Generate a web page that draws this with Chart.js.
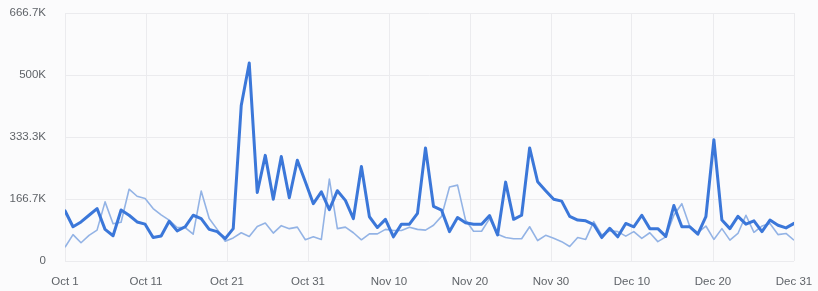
<!DOCTYPE html>
<html>
<head>
<meta charset="utf-8">
<script src="https://cdn.jsdelivr.net/npm/chart.js@4/dist/chart.umd.min.js"></script>
<style>
  html, body { margin: 0; padding: 0; background: #fbfbfc; }
  #wrap { width: 818px; height: 291px; position: relative; }
</style>
</head>
<body>
<div id="wrap"><canvas id="c" width="818" height="291"></canvas></div>
<script>
// Daily values (thousands), Oct 1 .. Dec 31
const seriesA = [135, 92, 105, 123, 141, 85, 68, 137, 123, 105,
  99, 63, 67, 107, 81, 92, 123, 114, 85, 79,
  60, 87, 418, 532, 184, 284, 166, 281, 170, 271,
  213, 154, 186, 138, 189, 163, 114, 254, 119, 90,
  112, 65, 99, 99, 128, 304, 147, 137, 79, 117,
  103, 99, 99, 122, 70, 212, 112, 123, 304, 213,
  189, 166, 161, 120, 110, 108, 98, 63, 88, 65,
  101, 92, 123, 87, 87, 66, 149, 92, 92, 72,
  119, 326, 110, 87, 120, 99, 108, 79, 110, 96,
  89, 101];
const seriesB = [37, 71, 49, 69, 83, 159, 100, 104, 193, 174,
  168, 141, 124, 110, 90, 90, 72, 188, 114, 85,
  53, 62, 76, 66, 93, 102, 75, 95, 87, 91,
  57, 65, 58, 220, 87, 91, 76, 57, 73, 73,
  85, 82, 82, 91, 85, 83, 96, 120, 199, 204,
  110, 80, 80, 114, 72, 63, 60, 60, 92, 55,
  69, 61, 52, 39, 63, 58, 106, 70, 81, 79,
  67, 79, 61, 76, 52, 65, 123, 154, 92, 76,
  94, 58, 87, 56, 74, 123, 77, 94, 101, 71,
  74, 56];
const xTickLabels = ["Oct 1", "Oct 11", "Oct 21", "Oct 31", "Nov 10", "Nov 20", "Nov 30", "Dec 10", "Dec 20", "Dec 31"];
const yTickLabels = ["0", "166.7K", "333.3K", "500K", "666.7K"];
const yMax = 2000 / 3;

const toPts = arr => arr.map((v, i) => ({ x: i, y: v }));
const lastIdx = seriesA.length - 1;

new Chart(document.getElementById('c'), {
  type: 'line',
  data: {
    datasets: [
      { data: toPts(seriesA), borderColor: '#3b77d9', borderWidth: 3, pointRadius: 0, tension: 0, borderJoinStyle: 'round', borderCapStyle: 'round' },
      { data: toPts(seriesB), borderColor: '#93b3e5', borderWidth: 1.6, pointRadius: 0, tension: 0, borderJoinStyle: 'round' }
    ]
  },
  options: {
    responsive: false,
    animation: false,
    layout: { padding: { top: 13, right: 24, bottom: 0, left: 0 } },
    plugins: { legend: { display: false }, tooltip: { enabled: false } },
    scales: {
      x: {
        type: 'linear', min: 0, max: lastIdx,
        afterBuildTicks: s => { s.ticks = xTickLabels.map((_, k) => ({ value: lastIdx * k / (xTickLabels.length - 1) })); },
        afterFit: s => { s.height = 30; s.paddingLeft = 0; s.paddingRight = 0; },
        grid: { color: '#ebebee', drawTicks: false },
        border: { display: false },
        ticks: {
          autoSkip: false, maxRotation: 0, padding: 14,
          color: '#5f6368', font: { family: 'Liberation Sans, Arial, sans-serif', size: 11.5 },
          callback: (v, idx) => xTickLabels[idx]
        }
      },
      y: {
        min: 0, max: yMax,
        afterBuildTicks: s => { s.ticks = yTickLabels.map((_, k) => ({ value: yMax * k / (yTickLabels.length - 1) })); },
        afterFit: s => { s.width = 65; s.paddingTop = 0; s.paddingBottom = 0; },
        grid: { color: '#ebebee', drawTicks: false },
        border: { display: false },
        ticks: {
          padding: 19,
          color: '#5f6368', font: { family: 'Liberation Sans, Arial, sans-serif', size: 11.5 },
          callback: (v, idx) => yTickLabels[idx]
        }
      }
    }
  }
});
</script>
</body>
</html>
